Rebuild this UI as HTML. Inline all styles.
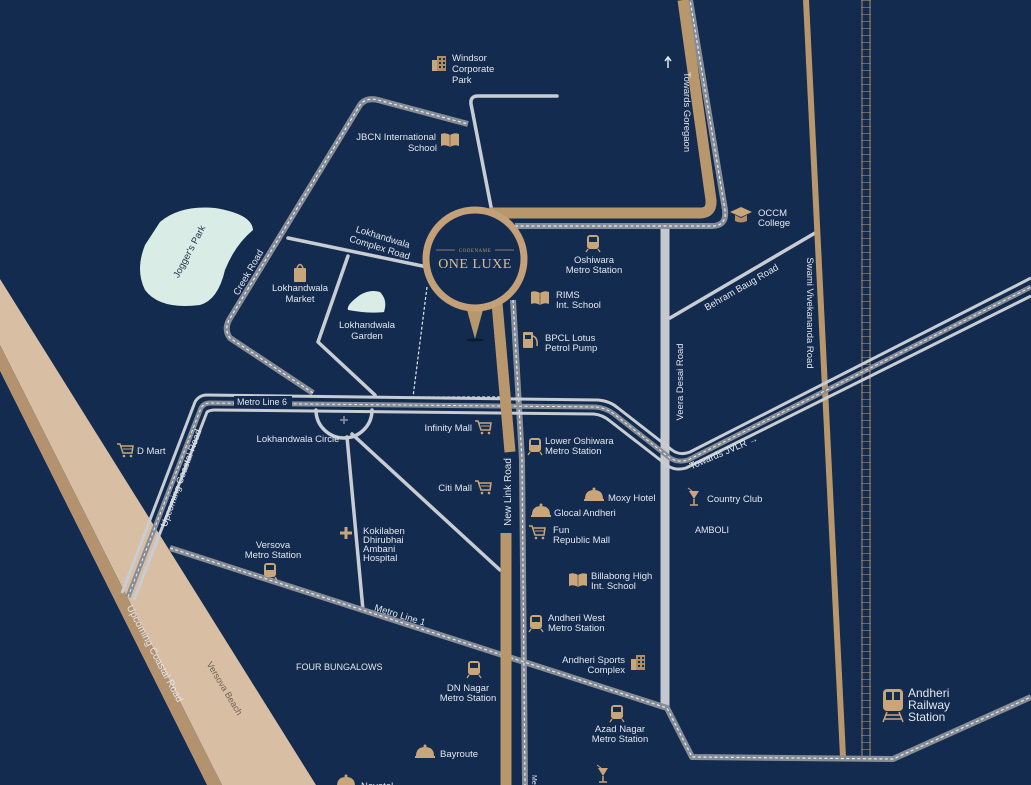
<!DOCTYPE html>
<html><head><meta charset="utf-8"><style>
html,body{margin:0;padding:0;background:#132b4e;}
svg{display:block}
text{font-family:"Liberation Sans",sans-serif;fill:#e3e7ee;font-size:9.5px}
</style></head><body>
<svg width="1031" height="785" viewBox="0 0 1031 785" xmlns="http://www.w3.org/2000/svg">
<rect width="1031" height="785" fill="#132b4e"/>
<defs>
<g id="train"><rect x="-6" y="-8" width="12" height="14" rx="3" fill="#c9a57a"/><rect x="-4" y="-6" width="8" height="5" fill="#132b4e"/><line x1="-5" y1="6" x2="-7" y2="9" stroke="#c9a57a" stroke-width="1.3"/><line x1="5" y1="6" x2="7" y2="9" stroke="#c9a57a" stroke-width="1.3"/></g>
<g id="cart"><path d="M-8,-6 L-5,-6 L-2,3 L7,3 L8,-4 L-4,-4" fill="none" stroke="#c9a57a" stroke-width="1.5"/><line x1="-2" y1="-1" x2="7" y2="-1" stroke="#c9a57a"/><circle cx="-1" cy="6" r="1.3" fill="#c9a57a"/><circle cx="6" cy="6" r="1.3" fill="#c9a57a"/></g>
<g id="book"><path d="M-9,-6 Q-5,-8 0,-5 Q5,-8 9,-6 L9,6 Q5,4 0,7 Q-5,4 -9,6 Z" fill="#c9a57a"/><line x1="0" y1="-5" x2="0" y2="7" stroke="#7d6446"/></g>
<g id="cloche"><path d="M-9,3 Q-9,-6 0,-6 Q9,-6 9,3 Z" fill="#c9a57a"/><rect x="-10" y="3" width="20" height="2" fill="#c9a57a"/><circle cx="0" cy="-7" r="1.5" fill="#c9a57a"/></g>
<g id="bldg"><rect x="-7" y="-4" width="5" height="11" fill="#c9a57a"/><rect x="-2" y="-8" width="9" height="15" fill="#b08d63"/><g fill="#132b4e"><rect x="0" y="-6" width="2" height="2"/><rect x="4" y="-6" width="2" height="2"/><rect x="0" y="-2" width="2" height="2"/><rect x="4" y="-2" width="2" height="2"/><rect x="0" y="2" width="2" height="2"/><rect x="4" y="2" width="2" height="2"/></g></g>
<g id="cocktail"><path d="M-5,-7 L5,-7 L0,1 Z" fill="#c9a57a"/><line x1="0" y1="1" x2="0" y2="7" stroke="#c9a57a" stroke-width="1.5"/><line x1="-4" y1="7" x2="4" y2="7" stroke="#c9a57a" stroke-width="1.5"/><line x1="-6" y1="-10" x2="-2" y2="-7" stroke="#c9a57a"/></g>
</defs>

<polygon points="0,279 316,785 222,785 0,345" fill="#d8bea3"/>
<polygon points="0,345 222,785 207,785 0,371" fill="#b39270"/>

<path d="M160,222 Q180,205 215,208 Q252,214 253,230 Q235,245 225,270 Q218,300 200,305 Q160,310 145,290 Q135,270 145,245 Z" fill="#d9ece6"/>
<path d="M360,295 Q370,289 380,292 Q388,300 384,312 Q370,314 348,310 Q346,305 360,295 Z" fill="#d9ece6"/>

<g stroke="#a88c69" stroke-width="1"><line x1="862" y1="0" x2="862" y2="757"/><line x1="870" y1="0" x2="870" y2="757"/></g>
<line x1="866" y1="0" x2="866" y2="757" stroke="#a88c69" stroke-width="10" stroke-dasharray="1 6" opacity="0.6"/>

<g fill="none" stroke="#c8ccd3" stroke-width="3.5" stroke-linecap="round" stroke-linejoin="round">
<path d="M557,96 L478,96 Q470,96 471,104 L492,212"/>
<path d="M288,238 L432,268"/>
<path d="M348,256 L318,342 L375,395"/>
<path d="M347,437 L363,610"/>
<path d="M352,434 L500,570"/>
<path d="M670,318 L815,233"/>
<path d="M316,410 A28,28 0 0 0 372,410"/>
</g>
<line x1="665" y1="226" x2="665" y2="707" stroke="#c5c9cf" stroke-width="9"/>
<path d="M427,287 L413,397 L505,397" fill="none" stroke="#e3e7ee" stroke-width="1.2" stroke-dasharray="3 2"/>
<path d="M340,420 h8 M344,416 v8" stroke="#8a93a3" stroke-width="1.5"/>

<line x1="806" y1="0" x2="843" y2="757" stroke="#b8976c" stroke-width="6"/>

<g fill="none" stroke-linejoin="round">
<g stroke="#878d97" stroke-width="6">
<path d="M313,393 L230,338 Q224,330 229,320 L360,105 Q366,97 378,100 L468,124"/>
<path d="M170,548 L667,708 L692,757 L893,759 L1031,697"/>
<path d="M515,226 L712,226 Q727,226 725,210 L690,0"/>
<path d="M513,300 L522,460 L525,785"/>
</g>
<g stroke="#e8eaee" stroke-width="1.2" stroke-dasharray="3 2.5">
<path d="M313,393 L230,338 Q224,330 229,320 L360,105 Q366,97 378,100 L468,124"/>
<path d="M170,548 L667,708 L692,757 L893,759 L1031,697"/>
<path d="M515,226 L712,226 Q727,226 725,210 L690,0"/>
<path d="M513,300 L522,460 L525,785"/>
</g>
</g>

<g fill="none" stroke-linejoin="round">
<path d="M122,593 L195,402 Q199,395 207,395 L598,400 Q610,401 618,408 L672,450 Q680,456 690,452 L1031,278" stroke="#c8ccd3" stroke-width="3"/>
<path d="M128,597 L201,408 Q204,403 210,403 L596,407 Q606,408 614,414 L670,458 Q678,463 688,460 L1031,287" stroke="#878d97" stroke-width="5"/>
<path d="M128,597 L201,408 Q204,403 210,403 L596,407 Q606,408 614,414 L670,458 Q678,463 688,460 L1031,287" stroke="#e8eaee" stroke-width="1" stroke-dasharray="3 2.5"/>
<path d="M134,600 L207,412 Q210,410 215,410 L594,414 Q603,415 610,421 L668,466 Q676,471 686,468 L1031,296" stroke="#c8ccd3" stroke-width="3"/>
</g>
<rect x="234" y="396" width="58" height="11" fill="#132b4e"/>

<g fill="none" stroke="#b8976c" stroke-width="11">
<path d="M490,213 L700,213 Q712,213 711,200 L683,0"/>
<path d="M497,303 L510,452"/>
<path d="M506,533 L506,785"/>
</g>

<ellipse cx="475" cy="340" rx="9" ry="1.5" fill="#0a1a30"/>
<path d="M467,310 L483,310 L475,339 Z" fill="#b8976c"/>
<circle cx="475" cy="259" r="49" fill="#132b4e" stroke="#c3a078" stroke-width="7"/>
<line x1="436" y1="250" x2="455" y2="250" stroke="#b8976c" stroke-width="0.8"/>
<line x1="495" y1="250" x2="514" y2="250" stroke="#b8976c" stroke-width="0.8"/>
<text x="475" y="252" text-anchor="middle" style="font-family:'Liberation Serif',serif;font-size:5px;fill:#b8976c;letter-spacing:0.5px">CODENAME</text>
<text x="475" y="268" text-anchor="middle" style="font-family:'Liberation Serif',serif;font-size:14px;fill:#d6c08a;letter-spacing:0.5px">ONE LUXE</text>

<use href="#bldg" x="439" y="64"/>
<use href="#book" x="450" y="140"/>
<use href="#train" x="593" y="243"/>
<use href="#book" x="540" y="298"/>
<rect x="523" y="332" width="10" height="16" rx="1" fill="#c9a57a"/><rect x="525" y="335" width="6" height="4" fill="#132b4e"/><path d="M533,336 Q538,338 537,346" stroke="#c9a57a" fill="none" stroke-width="1.5"/>
<g transform="translate(741,215)"><path d="M-11,-3 L0,-8 L11,-3 L0,2 Z" fill="#c9a57a"/><path d="M-6,0 L-6,6 Q0,9 6,6 L6,0 L0,3 Z" fill="#b08d63"/></g>
<rect x="294" y="268" width="12" height="14" rx="1" fill="#c9a57a"/><path d="M297,268 Q300,261 303,268" stroke="#c9a57a" fill="none" stroke-width="1.5"/>
<use href="#cart" x="483" y="427"/>
<use href="#cart" x="125" y="450"/>
<use href="#train" x="535" y="446"/>
<use href="#cart" x="483" y="487"/>
<use href="#cloche" x="594" y="496"/>
<use href="#cloche" x="541" y="512"/>
<use href="#cart" x="537" y="532"/>
<use href="#cocktail" x="694" y="498"/>
<path d="M340,533 h12 M346,527 v12" stroke="#c9a57a" stroke-width="3"/>
<use href="#train" x="270" y="571"/>
<use href="#book" x="578" y="580"/>
<use href="#train" x="536" y="623"/>
<use href="#bldg" x="638" y="663"/>
<use href="#train" x="474" y="669"/>
<use href="#train" x="617" y="713"/>
<use href="#cloche" x="425" y="753"/>
<use href="#cloche" x="346" y="783"/>
<use href="#cocktail" x="603" y="775"/>
<g transform="translate(893,704)"><rect x="-10" y="-15" width="20" height="22" rx="4" fill="#c9a57a"/><rect x="-7" y="-12" width="6" height="8" fill="#132b4e"/><rect x="1" y="-12" width="6" height="8" fill="#132b4e"/><path d="M-6,8 L-10,18 M6,8 L10,18 M-8,11 h16 M-9,15 h18" stroke="#c9a57a" stroke-width="1.5"/></g>

<text x="452" y="61">Windsor</text><text x="452" y="72">Corporate</text><text x="452" y="83">Park</text>
<text x="436" y="140" text-anchor="end">JBCN International</text><text x="437" y="151" text-anchor="end">School</text>
<text x="758" y="216">OCCM</text><text x="758" y="226">College</text>
<text x="594" y="263" text-anchor="middle">Oshiwara</text><text x="594" y="273" text-anchor="middle">Metro Station</text>
<text x="556" y="298">RIMS</text><text x="556" y="308">Int. School</text>
<text x="545" y="341">BPCL Lotus</text><text x="545" y="351">Petrol Pump</text>
<text x="300" y="291" text-anchor="middle">Lokhandwala</text><text x="300" y="302" text-anchor="middle">Market</text>
<text x="367" y="328" text-anchor="middle">Lokhandwala</text><text x="367" y="339" text-anchor="middle">Garden</text>
<g transform="translate(382,240) rotate(17)"><text x="0" y="0" text-anchor="middle">Lokhandwala</text><text x="0" y="11" text-anchor="middle">Complex Road</text></g>
<text transform="translate(192,253) rotate(-62)" text-anchor="middle" style="fill:#24344c">Jogger's Park</text>
<text transform="translate(251,274) rotate(-60)" text-anchor="middle">Creek Road</text>
<text x="237" y="405" style="font-size:9px">Metro Line 6</text>
<text x="298" y="442" text-anchor="middle">Lokhandwala Circle</text>
<text x="472" y="431" text-anchor="end">Infinity Mall</text>
<text x="137" y="454">D Mart</text>
<text transform="translate(184,479) rotate(-70)" text-anchor="middle">Upcoming Coastal Road</text>
<text x="545" y="444">Lower Oshiwara</text><text x="545" y="454">Metro Station</text>
<text x="472" y="491" text-anchor="end">Citi Mall</text>
<text x="608" y="501">Moxy Hotel</text>
<text x="554" y="516">Glocal Andheri</text>
<text x="553" y="533">Fun</text><text x="553" y="543">Republic Mall</text>
<text transform="translate(511,492) rotate(-90)" text-anchor="middle" style="font-size:10px">New Link Road</text>
<text x="707" y="502">Country Club</text>
<text x="695" y="533" style="font-size:9px">AMBOLI</text>
<text transform="translate(683,382) rotate(-90)" text-anchor="middle">Veera Desai Road</text>
<text transform="translate(743,290) rotate(-30)" text-anchor="middle">Behram Baug Road</text>
<text transform="translate(807,313) rotate(90)" text-anchor="middle">Swami Vivekananda Road</text>
<text transform="translate(725,455) rotate(-23)" text-anchor="middle">Towards JVLR →</text>
<text transform="translate(684,112) rotate(90)" text-anchor="middle">Towards Goregaon</text>
<path d="M668,68 v-10 M665,61 l3,-4 l3,4" stroke="#e3e7ee" stroke-width="1.5" fill="none"/>
<text x="273" y="548" text-anchor="middle">Versova</text><text x="273" y="558" text-anchor="middle">Metro Station</text>
<text x="363" y="534">Kokilaben</text><text x="363" y="543">Dhirubhai</text><text x="363" y="552">Ambani</text><text x="363" y="561">Hospital</text>
<text x="591" y="579">Billabong High</text><text x="591" y="589">Int. School</text>
<text transform="translate(399,618) rotate(17)" text-anchor="middle">Metro Line 1</text>
<text x="548" y="621">Andheri West</text><text x="548" y="631">Metro Station</text>
<text x="625" y="663" text-anchor="end">Andheri Sports</text><text x="625" y="673" text-anchor="end">Complex</text>
<text x="296" y="670" style="font-size:9px">FOUR BUNGALOWS</text>
<text x="468" y="691" text-anchor="middle">DN Nagar</text><text x="468" y="701" text-anchor="middle">Metro Station</text>
<text x="620" y="732" text-anchor="middle">Azad Nagar</text><text x="620" y="742" text-anchor="middle">Metro Station</text>
<text x="440" y="757">Bayroute</text>
<text x="361" y="789">Novotel</text>
<text transform="translate(532,775) rotate(90)" style="font-size:7px">Metro</text>
<text transform="translate(222,690) rotate(59)" text-anchor="middle" style="fill:#6b6258;font-size:9px">Versova Beach</text>
<text transform="translate(152,655) rotate(62)" text-anchor="middle" style="font-size:10px">Upcoming Coastal Road</text>
<text x="908" y="697" style="font-size:12px">Andheri</text><text x="908" y="709" style="font-size:12px">Railway</text><text x="908" y="721" style="font-size:12px">Station</text>
</svg>
</body></html>
